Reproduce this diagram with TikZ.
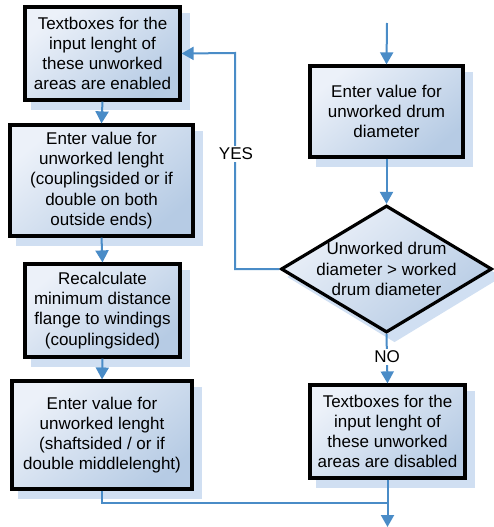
\documentclass[tikz,border=0pt]{standalone}
\usepackage{fontspec}
\setmainfont{Liberation Sans}
\usetikzlibrary{arrows.meta,shapes.geometric,backgrounds}
\definecolor{flowblue}{RGB}{74,140,199}
\definecolor{boxlight}{RGB}{236,241,249}
\definecolor{boxdark}{RGB}{182,203,228}
\definecolor{shadowc}{RGB}{208,223,242}
\tikzset{
  procbox/.style={rectangle, draw=black, line width=3.2pt, shading=axis,
    top color=boxlight, bottom color=boxdark, shading angle=40,
    align=center, font=\fontsize{17}{20.2}\selectfont, inner sep=0pt},
  decbox/.style={diamond, draw=black, line width=3.2pt, shading=axis,
    top color=boxlight, bottom color=boxdark, shading angle=40,
    align=center, font=\fontsize{17}{20.2}\selectfont, inner sep=-14pt},
  flow/.style={draw=flowblue, line width=2pt, -{Triangle[width=13pt,length=12pt]}},
  flowline/.style={draw=flowblue, line width=2pt},
  lbl/.style={fill=white, inner sep=1.5pt, font=\fontsize{17}{20}\selectfont}
}
\begin{document}
\begin{tikzpicture}[x=1pt,y=1pt]
\useasboundingbox (0,0) rectangle (494,-527);
\node[procbox, minimum width=155pt, minimum height=93pt] (b1) at (102.5,-53.5)
  {Textboxes for the\\input lenght of\\these unworked\\areas are enabled};
\node[procbox, minimum width=183pt, minimum height=111pt] (b2) at (101.5,-180.5)
  {Enter value for\\unworked lenght\\(couplingsided or if\\double on both\\outside ends)};
\node[procbox, minimum width=155pt, minimum height=93pt] (b3) at (102.5,-310.5)
  {Recalculate\\minimum distance\\flange to windings\\(couplingsided)};
\node[procbox, minimum width=180pt, minimum height=108pt] (b4) at (102,-435)
  {Enter value for\\unworked lenght\\(shaftsided / or if\\double middlelenght)};
\node[procbox, minimum width=153pt, minimum height=91pt] (r1) at (386.5,-111.5)
  {Enter value for\\unworked drum\\diameter};
\node[decbox, minimum width=211pt, minimum height=127pt, aspect=1.66] (d) at (386.5,-269)
  {Unworked drum\\diameter > worked\\drum diameter};
\node[procbox, minimum width=155pt, minimum height=93pt] (r2) at (387.5,-431.5)
  {Textboxes for the\\input lenght of\\these unworked\\areas are disabled};
\begin{scope}[on background layer]
  \foreach \n in {b1,b2,b3,b4,r1,r2}{
    \fill[shadowc] ([shift={(8pt,-8pt)}]\n.north west) rectangle ([shift={(8pt,-8pt)}]\n.south east);
  }
  \fill[shadowc] ([shift={(8pt,-8pt)}]d.north) -- ([shift={(8pt,-8pt)}]d.east)
    -- ([shift={(8pt,-8pt)}]d.south) -- ([shift={(8pt,-8pt)}]d.west) -- cycle;
\end{scope}
\coordinate (top) at (387,-23);
\coordinate (yc1) at (235,-269);
\coordinate (yc2) at (235,-53);
\coordinate (j1) at (102,-503);
\coordinate (j2) at (387.5,-503);
\coordinate (bot) at (387.5,-527);
\draw[flow] (top) -- (r1.north);
\draw[flow] (r1.south) -- (d.north);
\draw[flow] (d.west) -- (yc1) -- (yc2) -- (b1.east);
\node[lbl] (yes) at (236,-154) {YES};
\draw[flow] (d.south) -- (r2.north);
\node[lbl] (no) at (387,-357) {NO};
\draw[flow] (b1.south) -- (b2.north);
\draw[flow] (b2.south) -- (b3.north);
\draw[flow] (b3.south) -- (b4.north);
\draw[flowline] (b4.south) -- (j1) -- (j2);
\draw[flow] (r2.south) -- (bot);
\end{tikzpicture}
\end{document}
